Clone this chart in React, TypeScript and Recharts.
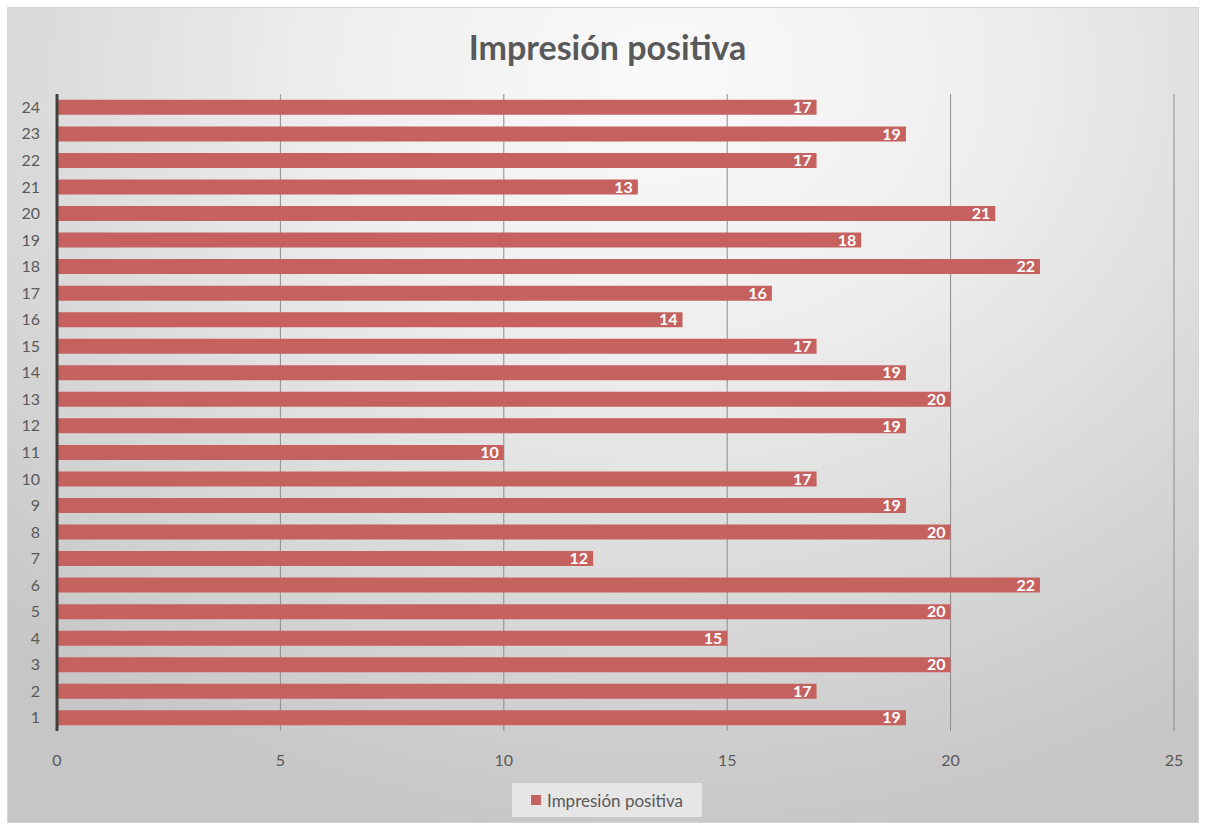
import React from 'react';
import { BarChart, Bar, XAxis, YAxis, CartesianGrid, Legend, LabelList } from 'recharts';

const categories = ['1', '2', '3', '4', '5', '6', '7', '8', '9', '10', '11', '12', '13', '14', '15', '16', '17', '18', '19', '20', '21', '22', '23', '24'];
const impresionPositiva = [19, 17, 20, 15, 20, 22, 12, 20, 19, 17, 10, 19, 20, 19, 17, 14, 16, 22, 18, 21, 13, 17, 19, 17];
const xTicks = [0, 5, 10, 15, 20, 25];

const seriesName = 'Impresión positiva';
const barColor = '#c5625f';
const font = 'Lato, "Open Sans", sans-serif';

const data = categories.map((name, i) => ({ name, value: impresionPositiva[i] }));

const LegendBox = () => (
  <div
    style={{
      width: 190,
      height: 34,
      background: 'rgba(235,235,235,0.85)',
      display: 'flex',
      alignItems: 'center',
      justifyContent: 'center',
      fontFamily: font,
      fontSize: 17,
      color: '#595959',
    }}
  >
    <span style={{ width: 10, height: 10, background: barColor, display: 'inline-block', marginRight: 6 }} />
    {seriesName}
  </div>
);

const App = () => {
  return (
    <div style={{ position: 'absolute', left: 0, top: 0, width: 1205, height: 827, background: '#fff' }}>
      {/* fondo con degradado */}
      <div
        style={{
          position: 'absolute',
          left: 7,
          top: 7,
          width: 1190,
          height: 814,
          border: '1px solid #d4d4d4',
          background: 'radial-gradient(ellipse 80% 95% at 55% 8%, #fafafa 0%, #eeeeee 35%, #d8d8d8 70%, #c6c6c6 100%)',
        }}
      />
      {/* título */}
      <div
        style={{
          position: 'absolute',
          left: 0,
          top: 26,
          width: 1215,
          textAlign: 'center',
          fontFamily: font,
          fontWeight: 700,
          fontSize: 34,
          color: '#595959',
        }}
      >
        {seriesName}
      </div>
      <div style={{ position: 'absolute', left: 0, top: 0 }}>
        <BarChart
          width={1205}
          height={827}
          data={data}
          layout="vertical"
          barCategoryGap="22%"
          margin={{ top: 94, right: 31, left: 0, bottom: 32 }}
          style={{ fontFamily: font }}
        >
          <CartesianGrid horizontal={false} stroke="#8c8c8c" strokeWidth={1} />
          <XAxis
            type="number"
            domain={[0, 25]}
            ticks={xTicks}
            axisLine={false}
            tickLine={false}
            tickSize={0}
            tickMargin={24}
            height={30}
            tick={{ fill: '#595959', fontSize: 16 }}
          />
          <YAxis
            type="category"
            dataKey="name"
            reversed
            width={57}
            axisLine={{ stroke: '#404040', strokeWidth: 3 }}
            tickLine={false}
            tickSize={0}
            tickMargin={17}
            interval={0}
            tick={{ fill: '#595959', fontSize: 16 }}
          />
          <Legend
            verticalAlign="bottom"
            content={<LegendBox />}
            wrapperStyle={{ left: 512, bottom: 10, width: 190, height: 34 }}
          />
          <Bar dataKey="value" name={seriesName} fill={barColor} isAnimationActive={false}>
            <LabelList dataKey="value" position="insideRight" offset={5} fill="#ffffff" fontSize={16} fontWeight={700} />
          </Bar>
        </BarChart>
      </div>
    </div>
  );
};

export default App;
